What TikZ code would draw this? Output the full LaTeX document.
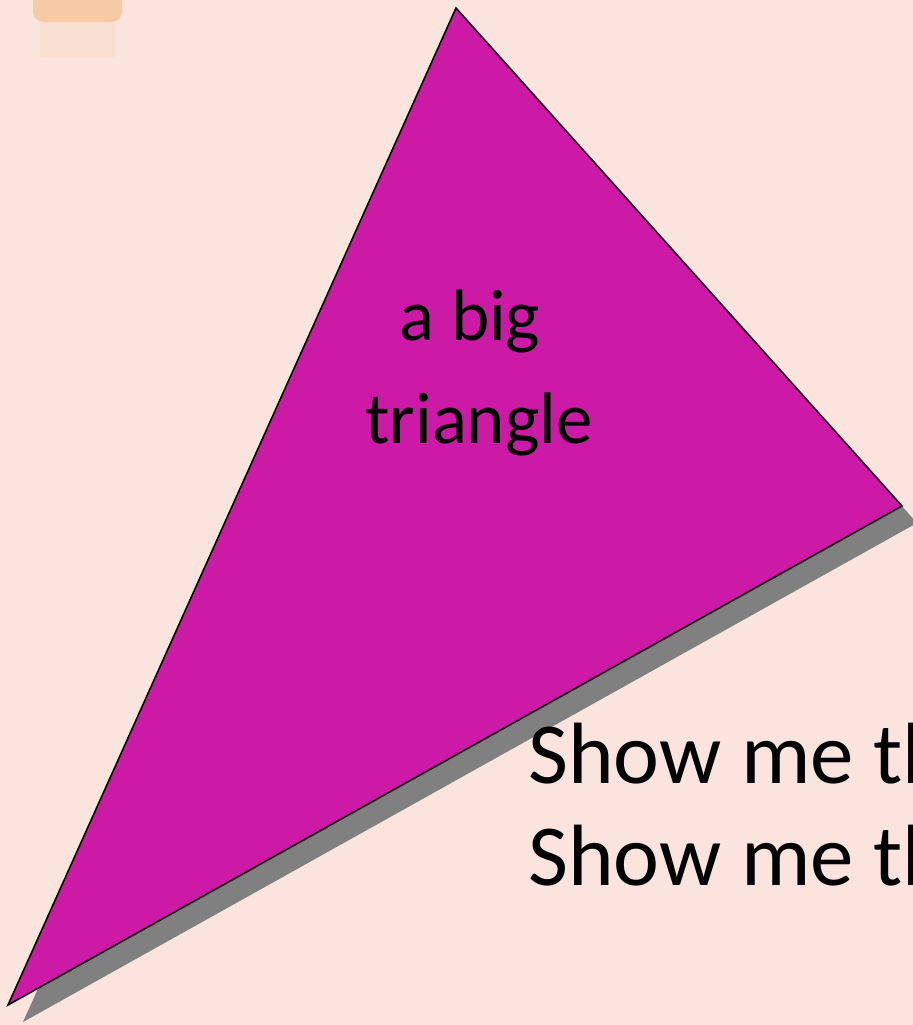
\documentclass[tikz,border=0pt]{standalone}
\usepackage{fontspec}
\setmainfont{Carlito}
\usepackage{xcolor}
\definecolor{SlidePink}{RGB}{251,228,222}
\definecolor{TriMagenta}{RGB}{204,26,167}
\definecolor{ShadowGrey}{RGB}{128,128,128}
\definecolor{BlobPeach}{RGB}{247,196,152}

\begin{document}
\begin{tikzpicture}[x=0.02cm, y=-0.02cm]
    \tikzset{
        trishape/.style={draw=black, line width=0.9pt, fill=TriMagenta, line join=miter},
        trishadow/.style={fill=ShadowGrey},
        bigtext/.style={font=\fontsize{41.5}{60}\selectfont, inner sep=0pt},
        slidetext/.style={font=\fontsize{49.5}{58}\selectfont, inner sep=0pt}
    }
    \useasboundingbox (0,0) rectangle (913,1025);
    \clip (0,0) rectangle (913,1025);
    \fill[SlidePink] (0,0) rectangle (913,1025);
    % scrap of a picture in the corner
    \fill[BlobPeach, opacity=0.8, rounded corners=6pt] (33,-10) rectangle (122,22);
    \fill[BlobPeach, opacity=0.15] (40,22) rectangle (115,58);
    % corners of the triangle
    \coordinate (top) at (456,8);
    \coordinate (right) at (902,506);
    \coordinate (left) at (8,1005);
    \fill[trishadow] ([shift={(15,17)}]top) -- ([shift={(15,17)}]right)
        -- ([shift={(15,17)}]left) -- cycle;
    \draw[trishape] (top) -- (right) -- (left) -- cycle;
    \node[bigtext, anchor=base] (abig) at (470,340) {a big};
    \node[bigtext, anchor=base] (tri) at (479,443) {triangle};
    \node[slidetext, anchor=base west] (show1) at (528,783) {Show me th};
    \node[slidetext, anchor=base west] (show2) at (528,885) {Show me th};
\end{tikzpicture}
\end{document}
